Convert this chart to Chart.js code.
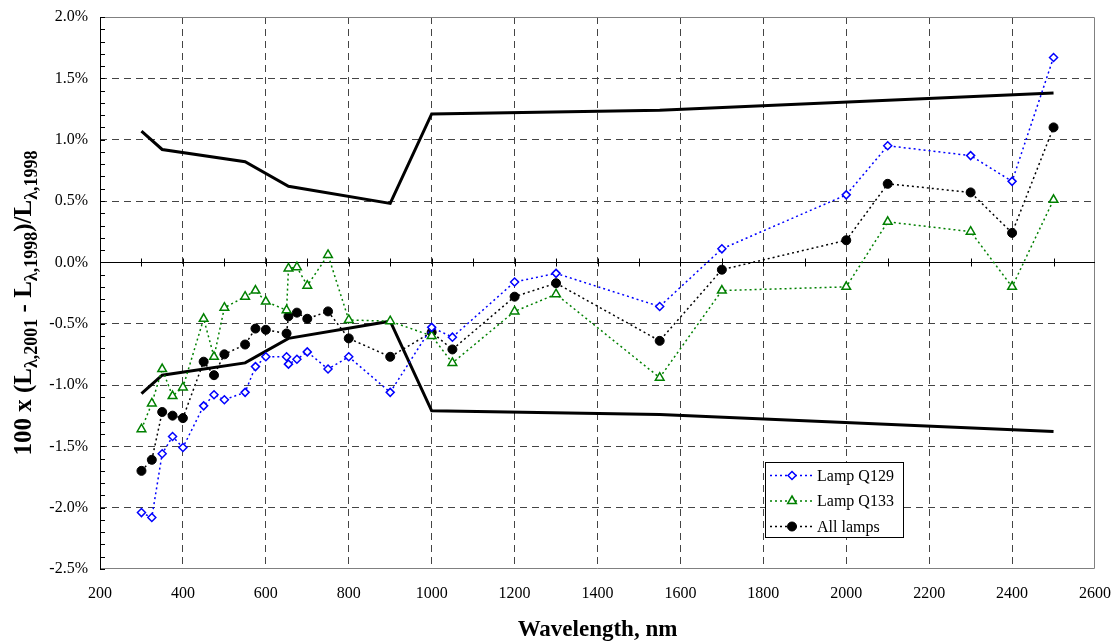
<!DOCTYPE html>
<html>
<head>
<meta charset="utf-8">
<script src="https://cdn.jsdelivr.net/npm/chart.js@4"></script>
<style>
    body { margin: 0; background: #fff; }
</style>
</head>
<body>
<canvas id="lampChart" width="1117" height="641"></canvas>
<script>
// wavelengths (nm) where the lamps were measured
const wavelengths = [300, 325, 350, 375, 400, 450, 475, 500, 550, 575, 600, 650, 654.6, 675, 700, 750, 800, 900, 1000, 1050, 1200, 1300, 1550, 1700, 2000, 2100, 2300, 2400, 2500];
// percent change
const lampQ129 = [-2.04, -2.08, -1.56, -1.42, -1.51, -1.17, -1.08, -1.12, -1.06, -0.85, -0.77, -0.77, -0.83, -0.79, -0.73, -0.87, -0.77, -1.06, -0.53, -0.61, -0.16, -0.09, -0.36, 0.11, 0.55, 0.95, 0.87, 0.66, 1.67];
const lampQ133 = [-1.36, -1.15, -0.87, -1.09, -1.02, -0.46, -0.77, -0.37, -0.28, -0.23, -0.32, -0.39, -0.05, -0.04, -0.19, 0.06, -0.47, -0.48, -0.60, -0.82, -0.40, -0.26, -0.94, -0.23, -0.20, 0.33, 0.25, -0.20, 0.51];
const allLamps = [-1.70, -1.61, -1.22, -1.25, -1.27, -0.81, -0.92, -0.75, -0.67, -0.54, -0.55, -0.58, -0.44, -0.41, -0.46, -0.40, -0.62, -0.77, -0.57, -0.71, -0.28, -0.17, -0.64, -0.06, 0.18, 0.64, 0.57, 0.24, 1.10];

// uncertainty band
const bandWavelengths = [300, 350, 550, 654.6, 900, 1000, 1550, 2500];
const bandUpper = [1.07, 0.92, 0.82, 0.62, 0.48, 1.21, 1.24, 1.38];
const bandLower = [-1.07, -0.92, -0.82, -0.62, -0.48, -1.21, -1.24, -1.38];

const xTicks = [200, 400, 600, 800, 1000, 1200, 1400, 1600, 1800, 2000, 2200, 2400, 2600];
const yTicks = [-2.5, -2.0, -1.5, -1.0, -0.5, 0.0, 0.5, 1.0, 1.5, 2.0];

const serif = "'Liberation Serif', 'Times New Roman', serif";

function pairs(xs, ys) {
    return xs.map((x, i) => ({ x: x, y: ys[i] }));
}

function drawMarker(c, style, x, y, r) {
    if (style === 'rectRot') {
        c.moveTo(x, y - r); c.lineTo(x + r, y); c.lineTo(x, y + r); c.lineTo(x - r, y); c.closePath();
    } else if (style === 'triangle') {
        c.moveTo(x, y - r); c.lineTo(x + r * 0.87, y + r * 0.5); c.lineTo(x - r * 0.87, y + r * 0.5); c.closePath();
    } else {
        c.arc(x, y, r, 0, Math.PI * 2);
    }
}

const decor = {
    id: 'decor',
    beforeDatasetsDraw(chart) {
        const c = chart.ctx;
        const a = chart.chartArea;
        const sx = chart.scales.x;
        const sy = chart.scales.y;
        c.save();
        // frame
        c.strokeStyle = '#808080';
        c.lineWidth = 1;
        c.beginPath();
        c.moveTo(a.left, a.top + 0.5);
        c.lineTo(a.right - 0.5, a.top + 0.5);
        c.lineTo(a.right - 0.5, a.bottom - 0.5);
        c.lineTo(a.left, a.bottom - 0.5);
        c.stroke();
        c.strokeStyle = '#000';
        c.beginPath();
        c.moveTo(a.left + 0.5, a.top);
        c.lineTo(a.left + 0.5, a.bottom);
        c.stroke();
        // minor ticks on the value axis
        for (let v = -25; v <= 20; v++) {
            const y = Math.round(sy.getPixelForValue(v / 10)) + 0.5;
            c.beginPath();
            c.moveTo(a.left, y);
            c.lineTo(a.left + 5, y);
            c.stroke();
        }
        // zero line with ticks
        const y0 = Math.round(sy.getPixelForValue(0)) + 0.5;
        c.beginPath();
        c.moveTo(a.left, y0);
        c.lineTo(a.right, y0);
        c.stroke();
        for (let w = 300; w < 2600; w += 100) {
            const x = Math.round(sx.getPixelForValue(w)) + 0.5;
            c.beginPath();
            c.moveTo(x, y0 - 4);
            c.lineTo(x, y0 + 4);
            c.stroke();
        }
        c.restore();
    },
    afterDraw(chart) {
        const c = chart.ctx;
        const a = chart.chartArea;
        c.save();
        c.fillStyle = '#000';

        // x title
        c.font = 'bold 23px ' + serif;
        c.textAlign = 'center';
        c.textBaseline = 'alphabetic';
        c.fillText('Wavelength, nm', (a.left + a.right) / 2, 636);

        // y title with subscripts
        const parts = [
            ['100 x (L', false], ['\u03bb,2001', true], [' - L', false],
            ['\u03bb,1998', true], [')/L', false], ['\u03bb,1998', true]
        ];
        const bigFont = 'bold 25px ' + serif;
        const subFont = 'bold 18px ' + serif;
        let total = 0;
        parts.forEach(p => {
            c.font = p[1] ? subFont : bigFont;
            total += c.measureText(p[0]).width;
        });
        c.translate(31, 303);
        c.rotate(-Math.PI / 2);
        c.textAlign = 'left';
        let pos = -total / 2;
        parts.forEach(p => {
            c.font = p[1] ? subFont : bigFont;
            c.fillText(p[0], pos, p[1] ? 6 : 0);
            pos += c.measureText(p[0]).width;
        });
        c.setTransform(1, 0, 0, 1, 0, 0);

        // legend box
        const box = { l: 765, t: 462, w: 138, h: 75 };
        c.fillStyle = '#fff';
        c.fillRect(box.l, box.t, box.w, box.h);
        c.strokeStyle = '#000';
        c.lineWidth = 1;
        c.strokeRect(box.l + 0.5, box.t + 0.5, box.w, box.h);
        [0, 1, 2].forEach((i) => {
            const ds = chart.data.datasets[i];
            const y = box.t + 13.5 + i * 25.5;
            c.strokeStyle = ds.borderColor;
            c.lineWidth = 1.5;
            c.setLineDash(ds.borderDash);
            c.beginPath();
            c.moveTo(box.l + 5, y);
            c.lineTo(box.l + 50, y);
            c.stroke();
            c.setLineDash([]);
            c.fillStyle = ds.pointBackgroundColor;
            c.strokeStyle = ds.pointBorderColor;
            c.lineWidth = ds.pointBorderWidth;
            c.beginPath();
            drawMarker(c, ds.pointStyle, box.l + 27, y, ds.pointRadius);
            c.fill();
            c.stroke();
            c.fillStyle = '#000';
            c.font = '16px ' + serif;
            c.textBaseline = 'middle';
            c.fillText(ds.label, box.l + 52, y + 1);
        });
        c.restore();
    }
};

const ctx = document.getElementById('lampChart').getContext('2d');
new Chart(ctx, {
    type: 'scatter',
    data: {
        datasets: [{
            label: 'Lamp Q129',
            data: pairs(wavelengths, lampQ129),
            showLine: true,
            borderColor: '#0000ff',
            borderWidth: 1.5,
            borderDash: [2, 3],
            pointStyle: 'rectRot',
            pointRadius: 4,
            pointBorderWidth: 1.5,
            pointBorderColor: '#0000ff',
            pointBackgroundColor: '#fff'
        }, {
            label: 'Lamp Q133',
            data: pairs(wavelengths, lampQ133),
            showLine: true,
            borderColor: '#008000',
            borderWidth: 1.5,
            borderDash: [2, 3],
            pointStyle: 'triangle',
            pointRadius: 5,
            pointBorderWidth: 1.5,
            pointBorderColor: '#008000',
            pointBackgroundColor: '#fff'
        }, {
            label: 'All lamps',
            data: pairs(wavelengths, allLamps),
            showLine: true,
            borderColor: '#000',
            borderWidth: 1.5,
            borderDash: [2, 3],
            pointStyle: 'circle',
            pointRadius: 4.5,
            pointBorderWidth: 1,
            pointBorderColor: '#000',
            pointBackgroundColor: '#000'
        }, {
            label: 'upper',
            data: pairs(bandWavelengths, bandUpper),
            showLine: true,
            borderColor: '#000',
            borderWidth: 3,
            pointRadius: 0
        }, {
            label: 'lower',
            data: pairs(bandWavelengths, bandLower),
            showLine: true,
            borderColor: '#000',
            borderWidth: 3,
            pointRadius: 0
        }]
    },
    options: {
        responsive: false,
        animation: false,
        devicePixelRatio: 1,
        layout: { padding: { top: 17, right: 22, left: 0, bottom: 0 } },
        plugins: {
            legend: { display: false },
            tooltip: { enabled: false }
        },
        scales: {
            x: {
                type: 'linear',
                min: 200,
                max: 2600,
                afterBuildTicks: s => { s.ticks = xTicks.map(v => ({ value: v })); },
                afterFit: s => { s.height = 72; s.paddingLeft = 0; s.paddingRight = 0; },
                ticks: {
                    padding: 15,
                    color: '#000',
                    font: { family: serif, size: 16 },
                    maxRotation: 0,
                    callback: v => String(v)
                },
                grid: {
                    drawTicks: false,
                    color: c => (c.tick && (c.tick.value === 200 || c.tick.value === 2600)) ? 'rgba(0,0,0,0)' : '#444',
                    lineWidth: 1
                },
                border: { display: false, dash: [7, 5] }
            },
            y: {
                type: 'linear',
                min: -2.5,
                max: 2.0,
                afterBuildTicks: s => { s.ticks = yTicks.map(v => ({ value: v })); },
                afterFit: s => { s.width = 100; s.paddingTop = 0; s.paddingBottom = 0; },
                ticks: {
                    padding: 12,
                    color: '#000',
                    font: { family: serif, size: 16 },
                    callback: v => v.toFixed(1) + '%'
                },
                grid: {
                    drawTicks: false,
                    color: c => (c.tick && (c.tick.value === -2.5 || c.tick.value === 0 || c.tick.value === 2)) ? 'rgba(0,0,0,0)' : '#444',
                    lineWidth: 1
                },
                border: { display: false, dash: [7, 5] }
            }
        }
    },
    plugins: [decor]
});
</script>
</body>
</html>
